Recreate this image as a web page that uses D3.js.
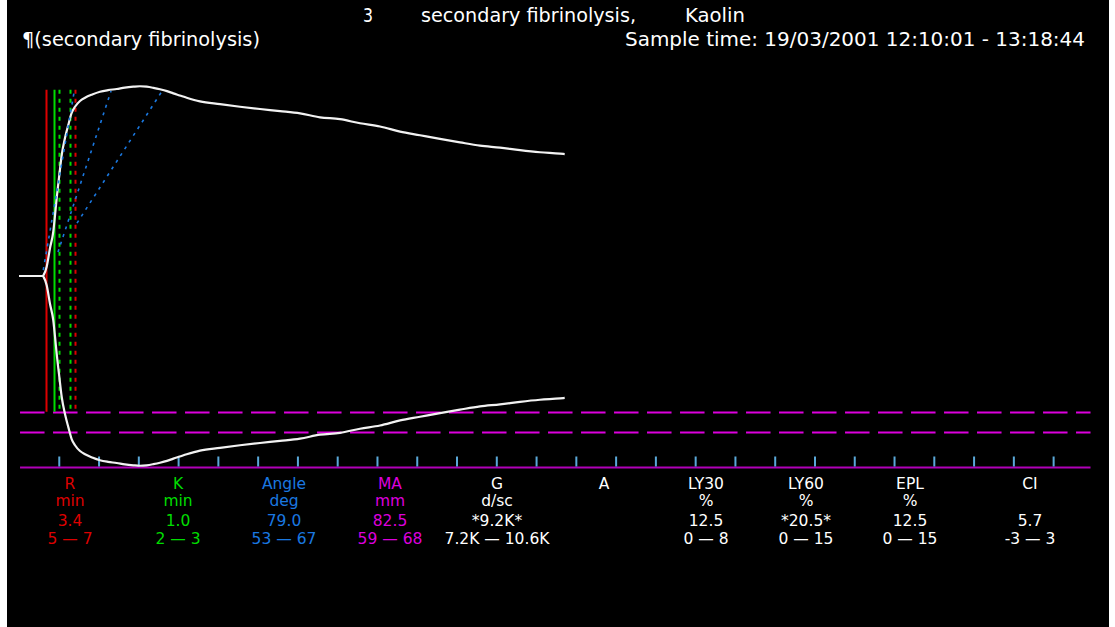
<!DOCTYPE html>
<html>
<head>
<meta charset="utf-8">
<script src="https://cdn.jsdelivr.net/npm/d3@7"></script>
<style>
  html, body { margin: 0; padding: 0; background: #ffffff; }
  svg { display: block; }
  text { font-family: "DejaVu Sans", Verdana, sans-serif; }
</style>
</head>
<body>
<svg id="teg" width="1115" height="627"></svg>
<script>
// ---- Trace: elapsed minutes and clot amplitude (mm) ----
const traceMinutes = [0, 3.0, 3.1, 3.48, 3.9, 4.31, 4.53, 4.74, 5.07, 5.37, 5.78, 6.20, 6.62, 7.04, 7.67,
  8.30, 9.2, 10.18, 11.2, 12.28, 13.3, 14.37, 15.2, 16.05, 16.9, 17.72, 18.6, 19.40, 20.2, 21.08,
  22.75, 25.27, 27.78, 30.30, 32.81, 35.33, 37.84, 40.35, 42.87, 45.38, 47.90, 50.41, 52.92, 55.44,
  57.95, 60.47, 62.98, 65.49, 68.01, 68.6];
const traceAmplitude = [0, 0, 0.5, 4.0, 12.2, 19.3, 26.5, 33.9, 43.9, 52.6, 60.0, 65.7, 70.9, 73.6, 76.1,
  77.5, 78.9, 80.1, 80.8, 81.3, 81.9, 82.3, 82.5, 82.3, 81.8, 81.2, 80.4, 79.4, 78.5, 77.5,
  75.9, 74.7, 73.6, 72.6, 71.7, 70.7, 69.0, 68.2, 66.4, 65.0, 62.8, 61.2, 59.6, 58.1,
  56.7, 55.8, 54.7, 53.8, 53.2, 53.0];

// ---- Result markers (minutes) ----
const rTime = 3.4;             // R
const kTime = 1.0;             // K
const rNormalHigh = 7;         // upper end of R normal range
const kGuideMinutes = [5.0, 6.4];
const maNormal = [59, 68];     // MA normal range (mm)

// ---- Angle construction lines: [minutes, amplitude] pairs ----
const angleLines = [
  [[3.05, 2.6], [6.95, 80.4]],
  [[4.90, 10.4], [11.57, 80.4]],
  [[7.29, 23.0], [17.98, 80.4]]
];

// ---- Time ticks (minutes) ----
const tickMinutes = d3.range(5, 131, 5);

// ---- Parameter table ----
const paramNames  = ["R", "K", "Angle", "MA", "G", "A", "LY30", "LY60", "EPL", "CI"];
const paramUnits  = ["min", "min", "deg", "mm", "d/sc", "", "%", "%", "%", ""];
const paramValues = ["3.4", "1.0", "79.0", "82.5", "*9.2K*", "", "12.5", "*20.5*", "12.5", "5.7"];
const paramRanges = ["5 \u2014 7", "2 \u2014 3", "53 \u2014 67", "59 \u2014 68", "7.2K \u2014 10.6K", "",
  "0 \u2014 8", "0 \u2014 15", "0 \u2014 15", "-3 \u2014 3"];

// ---- Header ----
const sampleNumber = "3";
const sampleLabel = "secondary fibrinolysis,";
const activator = "Kaolin";
const noteText = "\u00b6(secondary fibrinolysis)";
const sampleTime = "Sample time: 19/03/2001 12:10:01 - 13:18:44";

// ---- Layout and palette ----
const W = 1115, H = 627;
const RED = "#dd0000", GREEN = "#00dd00", BLUE = "#1a78e0", MAGENTA = "#dd00dd";
const paramColors = [RED, GREEN, BLUE, MAGENTA, "#ffffff", "#ffffff", "#ffffff", "#ffffff", "#ffffff", "#ffffff"];
const columnX = [70, 178, 284, 390, 497, 604, 706, 806, 910, 1030];
const rowY = [489, 506, 526, 544];

const svg = d3.select("#teg");

// screen frame
svg.append("rect").attr("x", 7).attr("y", 0).attr("width", 1102).attr("height", H).attr("fill", "#000");

const x = d3.scaleLinear().domain([0, 135]).range([19, 1092.9]);
const y = d3.scaleLinear().domain([-82.5, 82.5]).range([465.75, 86.25]);

// MA normal range guides (lower half)
maNormal.forEach(v => {
  svg.append("line")
    .attr("x1", x(0.13)).attr("x2", x(134.7))
    .attr("y1", Math.round(y(-v)) + 0.5).attr("y2", Math.round(y(-v)) + 0.5)
    .attr("stroke", MAGENTA).attr("stroke-width", 2)
    .attr("stroke-dasharray", "24.5,8.5");
});

// baseline with time ticks
const axisY = Math.round(y(-83)) + 0.5;
svg.append("line")
  .attr("x1", x(0.13)).attr("x2", x(134.7))
  .attr("y1", axisY).attr("y2", axisY)
  .attr("stroke", "#b000b8").attr("stroke-width", 2);

const axis = d3.axisTop(x).tickValues(tickMinutes).tickSize(10).tickFormat("");
svg.append("g")
  .attr("transform", `translate(0,${axisY - 1})`)
  .call(axis)
  .call(g => g.select(".domain").remove())
  .call(g => g.selectAll(".tick line").attr("stroke", "#5aa8d8").attr("stroke-width", 2));

// marker lines
const markTop = y(81), markBottom = y(-59);
function vline(t, color, dash) {
  const xx = Math.round(x(t)) + 0.5;
  svg.append("line")
    .attr("x1", xx).attr("x2", xx)
    .attr("y1", markTop).attr("y2", markBottom)
    .attr("stroke", color).attr("stroke-width", 2)
    .attr("stroke-dasharray", dash || null);
}
vline(rTime, RED);
vline(rTime + kTime, GREEN);
kGuideMinutes.forEach(t => vline(t, GREEN, "4,5"));
vline(rNormalHigh, RED, "4,5");

// amplitude trace, mirrored about the centre line
const pts = traceMinutes.map((t, i) => [t, traceAmplitude[i]]);
const upper = d3.line().x(d => x(d[0])).y(d => y(d[1])).curve(d3.curveMonotoneX);
const lower = d3.line().x(d => x(d[0])).y(d => y(-d[1])).curve(d3.curveMonotoneX);
svg.append("path").attr("d", upper(pts)).attr("fill", "none").attr("stroke", "#f2f2f2").attr("stroke-width", 2.2);
svg.append("path").attr("d", lower(pts)).attr("fill", "none").attr("stroke", "#f2f2f2").attr("stroke-width", 2.2);

// angle construction lines, drawn over the trace
angleLines.forEach(seg => {
  svg.append("line")
    .attr("x1", x(seg[0][0])).attr("y1", y(seg[0][1]))
    .attr("x2", x(seg[1][0])).attr("y2", y(seg[1][1]))
    .attr("stroke", BLUE).attr("stroke-width", 1.6)
    .attr("stroke-dasharray", "3,5");
});

// header
function headerText(str, xx, yy, len) {
  svg.append("text").attr("x", xx).attr("y", yy)
    .attr("fill", "#ffffff").attr("font-size", 19)
    .attr("textLength", len).attr("lengthAdjust", "spacingAndGlyphs")
    .text(str);
}
headerText(sampleNumber, 363, 22, 10);
headerText(sampleLabel, 421, 22, 215);
headerText(activator, 685, 22, 60);
headerText(noteText, 22, 46, 238);
headerText(sampleTime, 625, 46, 460);

// parameter table
const rows = [paramNames, paramUnits, paramValues, paramRanges];
rows.forEach((row, r) => {
  svg.append("g").selectAll("text")
    .data(row)
    .join("text")
    .attr("x", (d, i) => columnX[i])
    .attr("y", rowY[r])
    .attr("text-anchor", "middle")
    .attr("font-size", 15.5)
    .attr("fill", (d, i) => paramColors[i])
    .text(d => d);
});
</script>
</body>
</html>
